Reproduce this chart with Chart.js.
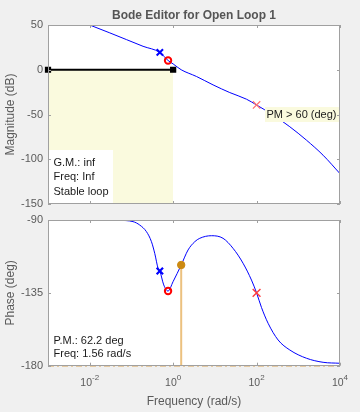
<!DOCTYPE html>
<html><head><meta charset="utf-8">
<script src="https://cdn.jsdelivr.net/npm/chart.js@4"></script>
<style>
html,body{margin:0;padding:0;background:#f0f0f0;}
#wrap{position:relative;width:360px;height:412px;background:#f0f0f0;overflow:hidden;}
#c1{position:absolute;left:0;top:0;}
#c2{position:absolute;left:0;top:212px;}
</style></head><body>
<div id="wrap"><canvas id="c1" width="360" height="212"></canvas><canvas id="c2" width="360" height="200"></canvas></div>
<script>
// ---------- data ----------
const magTicks = [50, 0, -50, -100, -150];
const phaseTicks = [-90, -135, -180];
const freqTicks = [1e-2, 1e0, 1e2, 1e4];
const freqTickExp = ['-2', '0', '2', '4'];

const magFreq = [0.001, 0.01, 0.0303, 0.0759, 0.19, 0.477, 0.755, 1.0, 1.56, 3.62, 9.06, 22.8, 57.3, 99.5, 249, 626, 1573, 3936, 10000];
const magDb   = [70, 50, 41.2, 33.7, 26.2, 19.4, 10.4, 6.5, 0, -7.5, -16.9, -25.5, -32.9, -39.3, -50.6, -63.7, -78.7, -95.5, -116.1];

const phaseFreq = [0.001, 0.0174, 0.05, 0.109, 0.158, 0.229, 0.302, 0.362, 0.435, 0.48, 0.595, 0.755, 0.995, 1.56, 2.28, 3.30, 4.35, 8.28, 15.7, 27.3, 47.4, 75.5, 100, 131, 189, 328, 626, 1573, 3936, 10000];
const phaseDeg  = [-90, -90, -90.2, -91.0, -93.1, -97.2, -103.4, -110.6, -119.8, -121.5, -130.1, -133.9, -128.1, -117.8, -108.5, -103.4, -101.3, -99.7, -101.3, -107.5, -116.7, -127.1, -135, -144, -153.8, -164.1, -170.3, -175.4, -177.9, -178.5];

const poleFreq = [0.48],  poleMag = [19.4],  polePhase = [-121.5];
const zeroFreq = [0.755], zeroMag = [10.4],  zeroPhase = [-133.9];
const pole2Freq = [100],  pole2Mag = [-39.3], pole2Phase = [-135];
const boundFreq = [0.001, 1], boundMag = [0, 0];
const pmFreq = [1.56], pmPhase = [-117.8];
const floorFreq = [0.001, 10000], floorPhase = [-180, -180];

const titleText = 'Bode Editor for Open Loop 1';
const gmLines = ['G.M.: inf', 'Freq: Inf', 'Stable loop'];
const pmLines = ['P.M.: 62.2 deg', 'Freq: 1.56 rad/s'];
const pmReqText = 'PM > 60 (deg)';

// ---------- helpers ----------
const zip = (xs, ys) => xs.map((x, i) => ({x, y: ys[i]}));
const FONT = '"Liberation Sans", Arial, Helvetica, sans-serif';
Chart.defaults.font.family = FONT;
Chart.defaults.animation = false;
const GRAY = '#5a5a5a';
const BOX = '#a0a0a0';

const whiteArea = {
  id: 'whiteArea',
  beforeDatasetsDraw(chart) {
    const {ctx, chartArea: a} = chart;
    ctx.save();
    ctx.fillStyle = '#ffffff';
    ctx.fillRect(a.left, a.top, a.right - a.left, a.bottom - a.top);
    ctx.restore();
  }
};

function framePlugin(yTicks) {
  return {
    id: 'frame',
    afterDraw(chart) {
      const {ctx, chartArea: a, scales} = chart;
      ctx.save();
      ctx.strokeStyle = BOX; ctx.lineWidth = 1;
      ctx.strokeRect(Math.round(a.left) + 0.5, Math.round(a.top) + 0.5, Math.round(a.right - a.left) - 1, Math.round(a.bottom - a.top) - 1);
      ctx.beginPath();
      for (const v of freqTicks) {
        const px = Math.round(scales.x.getPixelForValue(v)) + 0.5;
        ctx.moveTo(px, a.top); ctx.lineTo(px, a.top + 3);
        ctx.moveTo(px, a.bottom); ctx.lineTo(px, a.bottom - 3);
      }
      for (const v of yTicks) {
        const py = Math.round(scales.y.getPixelForValue(v)) + 0.5;
        ctx.moveTo(a.left, py); ctx.lineTo(a.left + 3, py);
        ctx.moveTo(a.right, py); ctx.lineTo(a.right - 3, py);
      }
      ctx.stroke();
      ctx.restore();
    }
  };
}

function yScale(min, max, ticks, title) {
  return {
    min, max,
    afterBuildTicks: s => { s.ticks = ticks.map(v => ({value: v})); },
    afterFit: s => { s.width = 48; s.paddingTop = 0; s.paddingBottom = 0; },
    grid: {display: false, drawTicks: false},
    border: {display: false},
    ticks: {color: GRAY, font: {size: 11}, padding: 5},
    title: {display: true, text: title, color: GRAY, font: {size: 12}, padding: {top: 3, bottom: 0}}
  };
}

// ---------- magnitude chart ----------
const magText = {
  id: 'magText',
  afterDatasetsDraw(chart) {
    const {ctx, chartArea: a} = chart;
    ctx.save();
    ctx.font = '11px ' + FONT;
    ctx.textBaseline = 'middle';
    // G.M. box
    ctx.fillStyle = '#ffffff';
    ctx.fillRect(a.left + 1, a.bottom - 54, 64, 53);
    ctx.fillStyle = '#1a1a1a';
    gmLines.forEach((t, i) => ctx.fillText(t, a.left + 5.5, a.bottom - 41.5 + i * 14.5));
    // PM requirement label
    ctx.fillStyle = 'rgb(250,250,222)';
    ctx.fillRect(265, 107, a.right - 265, 15);
    ctx.fillStyle = '#1a1a1a';
    ctx.fillText(pmReqText, 266.5, 114.8);
    ctx.restore();
  }
};

new Chart(document.getElementById('c1'), {
  type: 'line',
  data: {
    datasets: [
      {data: zip(poleFreq, poleMag), showLine: false, pointStyle: 'crossRot', pointRadius: 4.5, borderColor: '#0000ff', pointBorderWidth: 2, order: 0},
      {data: zip(zeroFreq, zeroMag), showLine: false, pointStyle: 'circle', pointRadius: 3.2, borderColor: '#ff0000', backgroundColor: 'rgba(0,0,0,0)', pointBorderWidth: 2, order: 0},
      {data: zip(pole2Freq, pole2Mag), showLine: false, pointStyle: 'crossRot', pointRadius: 5.2, borderColor: '#ff7070', pointBorderWidth: 1.2, order: 0},
      {data: zip(magFreq, magDb), borderColor: '#0000ff', borderWidth: 1, pointRadius: 0, cubicInterpolationMode: 'monotone', order: 1},
      {data: zip(boundFreq, boundMag), borderColor: '#000000', borderWidth: 2, pointStyle: 'rect', pointRadius: 3, pointBackgroundColor: '#000', pointBorderColor: '#000', fill: 'start', backgroundColor: 'rgb(250,250,222)', clip: false, order: 2}
    ]
  },
  options: {
    responsive: false,
    layout: {padding: {top: 0, right: 20, bottom: 8, left: 0}},
    plugins: {
      legend: {display: false}, tooltip: {enabled: false},
      title: {display: true, text: titleText, fullSize: false, color: '#555555', font: {size: 12, weight: 'bold'}, padding: {top: 8, bottom: 2.6}}
    },
    scales: {
      x: {type: 'logarithmic', min: 1e-3, max: 1e4, display: false},
      y: yScale(-150, 50, magTicks, 'Magnitude (dB)')
    }
  },
  plugins: [whiteArea, magText, framePlugin(magTicks)]
});

// ---------- phase chart ----------
const phaseText = {
  id: 'phaseText',
  afterDraw(chart) {
    const {ctx, chartArea: a, scales} = chart;
    ctx.save();
    ctx.textBaseline = 'middle';
    ctx.fillStyle = '#1a1a1a';
    ctx.font = '11px ' + FONT;
    pmLines.forEach((t, i) => ctx.fillText(t, a.left + 5.5, a.bottom - 25 + i * 13.6));
    // log tick labels 10^n
    ctx.fillStyle = GRAY;
    freqTicks.forEach((v, i) => {
      const px = scales.x.getPixelForValue(v);
      ctx.font = '10.5px ' + FONT;
      const wb = ctx.measureText('10').width;
      ctx.font = '8px ' + FONT;
      const we = ctx.measureText(freqTickExp[i]).width;
      const x0 = px - (wb + we) / 2;
      ctx.font = '10.5px ' + FONT;
      ctx.fillText('10', x0, a.bottom + 17.5);
      ctx.font = '8px ' + FONT;
      ctx.fillText(freqTickExp[i], x0 + wb, a.bottom + 12.5);
    });
    ctx.restore();
  }
};

new Chart(document.getElementById('c2'), {
  type: 'line',
  data: {
    datasets: [
      {data: zip(pmFreq, pmPhase), showLine: false, pointStyle: 'circle', pointRadius: 3.7, pointBackgroundColor: '#cc8a12', pointBorderColor: '#cc8a12', pointBorderWidth: 1, order: 0},
      {data: zip(poleFreq, polePhase), showLine: false, pointStyle: 'crossRot', pointRadius: 4.5, borderColor: '#0000ff', pointBorderWidth: 2.2, order: 0},
      {data: zip(zeroFreq, zeroPhase), showLine: false, pointStyle: 'circle', pointRadius: 3.2, borderColor: '#ff0000', backgroundColor: 'rgba(0,0,0,0)', pointBorderWidth: 2, order: 0},
      {data: zip(pole2Freq, pole2Phase), showLine: false, pointStyle: 'crossRot', pointRadius: 5.5, borderColor: '#ff3a3a', pointBorderWidth: 1.4, order: 0},
      {data: zip(phaseFreq, phaseDeg), borderColor: '#0000ff', borderWidth: 1, pointRadius: 0, cubicInterpolationMode: 'monotone', order: 1},
      {data: zip([pmFreq[0], pmFreq[0]], [pmPhase[0], -180]), borderColor: '#ecc17f', borderWidth: 2, pointRadius: 0, order: 2},
      {data: zip(floorFreq, floorPhase), borderColor: '#d9a354', borderWidth: 1.5, borderDash: [6, 3, 2, 3], pointRadius: 0, clip: false, order: 3}
    ]
  },
  options: {
    responsive: false,
    layout: {padding: {top: 8, right: 20, bottom: 0, left: 0}},
    plugins: {legend: {display: false}, tooltip: {enabled: false}},
    scales: {
      x: {
        type: 'logarithmic', min: 1e-3, max: 1e4,
        afterFit: s => { s.height = 46.3; },
        ticks: {display: false}, grid: {display: false, drawTicks: false}, border: {display: false},
        title: {display: true, text: 'Frequency (rad/s)', color: GRAY, font: {size: 12}, padding: {top: 0, bottom: 3.5}}
      },
      y: yScale(-180, -90, phaseTicks, 'Phase (deg)')
    }
  },
  plugins: [whiteArea, phaseText, framePlugin(phaseTicks)]
});
</script>
</body></html>
